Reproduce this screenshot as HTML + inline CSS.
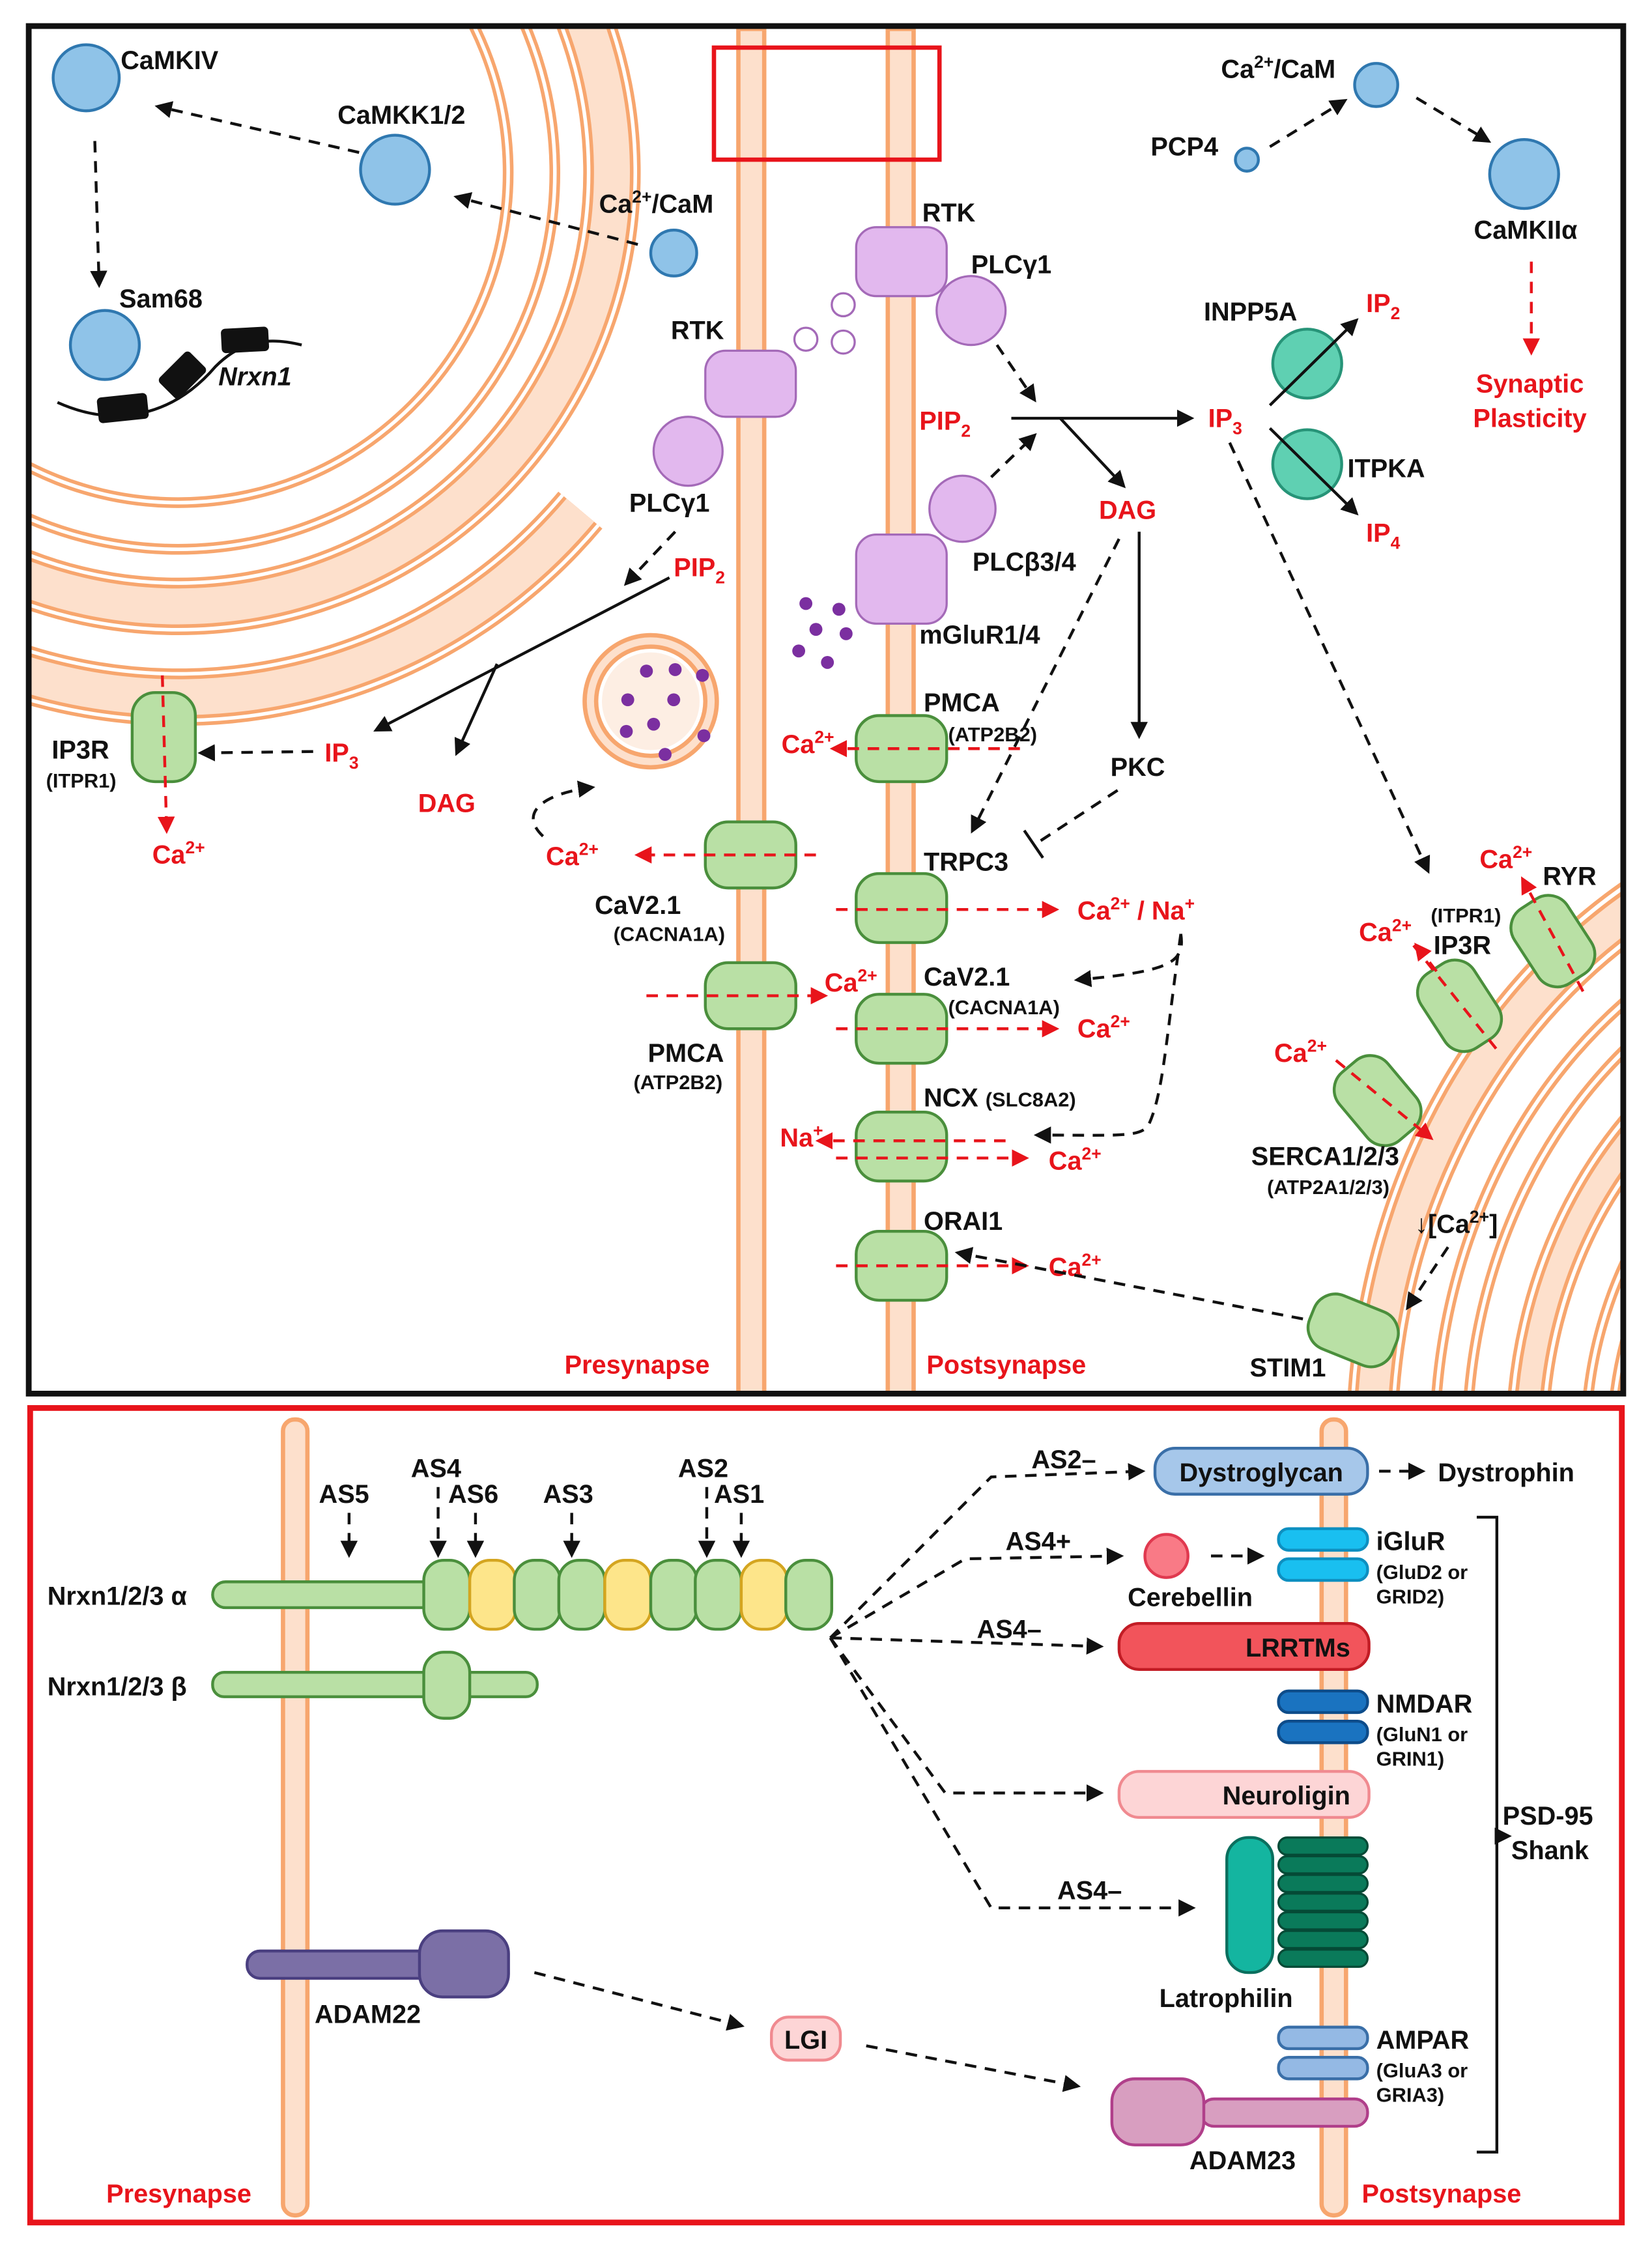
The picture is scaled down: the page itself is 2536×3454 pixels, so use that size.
<!DOCTYPE html>
<html><head><meta charset="utf-8"><style>
html,body{margin:0;padding:0;background:#fff}
svg{display:block}
text{font-family:"Liberation Sans",Arial,sans-serif;font-weight:bold}
.k{fill:#111;font-size:18px}
.r{fill:#e8141b;font-size:18px}
.s{fill:#111;font-size:14px}
.g{fill:#b9e0a5;stroke:#4a8f3c;stroke-width:2}
.p{fill:#e2b8ee;stroke:#a46ab8;stroke-width:1.5}
.b{fill:#8fc3e8;stroke:#2f78b0;stroke-width:2}
.t{fill:#5fd0b2;stroke:#279478;stroke-width:2}
.dk{stroke:#111;stroke-width:2;stroke-dasharray:8,6;fill:none}
.dr{stroke:#e8141b;stroke-width:2;stroke-dasharray:8,6;fill:none}
.sk{stroke:#111;stroke-width:2;fill:none}
</style></head><body>
<svg width="2536" height="3454" viewBox="0 0 1150 1566" xmlns="http://www.w3.org/2000/svg">
<defs>
<marker id="ak" viewBox="0 0 10 10" refX="8" refY="5" markerWidth="6" markerHeight="6" orient="auto-start-reverse"><path d="M0,0L10,5L0,10z" fill="#111"/></marker>
<marker id="ar" viewBox="0 0 10 10" refX="8" refY="5" markerWidth="6" markerHeight="6" orient="auto-start-reverse"><path d="M0,0L10,5L0,10z" fill="#e8141b"/></marker>
<clipPath id="top"><rect x="22" y="20" width="1106" height="948"/></clipPath>
</defs>

<!-- TOP PANEL -->
<g clip-path="url(#top)" fill="none">
 <!-- nucleus band1 (white interior) -->
 <circle cx="124" cy="120" r="246" stroke="#f7a66e" stroke-width="40"/>
 <circle cx="124" cy="120" r="246" stroke="#fff" stroke-width="35"/>
 <circle cx="124" cy="120" r="246" stroke="#f7a66e" stroke-width="30"/>
 <circle cx="124" cy="120" r="246" stroke="#fff" stroke-width="25"/>
 <!-- band2 -->
 <circle cx="124" cy="120" r="302" stroke="#f7a66e" stroke-width="40"/>
 <circle cx="124" cy="120" r="302" stroke="#fff" stroke-width="35"/>
 <circle cx="124" cy="120" r="302" stroke="#f7a66e" stroke-width="30"/>
 <circle cx="124" cy="120" r="302" stroke="#fde0cc" stroke-width="25"/>
 <!-- band3 partial -->
 <g stroke-linecap="butt">
 <path d="M404,355 A365,365 0 0 1 -235,183" stroke="#f7a66e" stroke-width="40"/>
 <path d="M404,355 A365,365 0 0 1 -235,183" stroke="#fff" stroke-width="35"/>
 <path d="M404,355 A365,365 0 0 1 -235,183" stroke="#f7a66e" stroke-width="30"/>
 <path d="M404,355 A365,365 0 0 1 -235,183" stroke="#fde0cc" stroke-width="25"/>
 </g>
 <!-- right ER -->
 <g transform="translate(1335,1005) scale(1,1.15)">
  <circle r="380" stroke="#f7a66e" stroke-width="36"/>
  <circle r="380" stroke="#fff" stroke-width="31"/>
  <circle r="380" stroke="#f7a66e" stroke-width="26"/>
  <circle r="380" stroke="#fde0cc" stroke-width="21"/>
  <circle r="325" stroke="#f7a66e" stroke-width="30"/>
  <circle r="325" stroke="#fff" stroke-width="25"/>
  <circle r="325" stroke="#f7a66e" stroke-width="20"/>
  <circle r="325" stroke="#fff" stroke-width="15"/>
  <circle r="272" stroke="#f7a66e" stroke-width="30"/>
  <circle r="272" stroke="#fff" stroke-width="25"/>
  <circle r="272" stroke="#f7a66e" stroke-width="20"/>
  <circle r="272" stroke="#fde0cc" stroke-width="15"/>
  <circle r="222" stroke="#f7a66e" stroke-width="26"/>
  <circle r="222" stroke="#fff" stroke-width="21"/>
  <circle r="222" stroke="#f7a66e" stroke-width="16"/>
  <circle r="222" stroke="#fff" stroke-width="11"/>
 </g>
</g>
<!-- membranes top -->
<rect x="514" y="20" width="18" height="950" fill="#fde0cc" stroke="#f7a66e" stroke-width="3"/>
<rect x="618" y="20" width="18" height="950" fill="#fde0cc" stroke="#f7a66e" stroke-width="3"/>
<rect x="20" y="18" width="1110" height="952" fill="none" stroke="#111" stroke-width="4"/>
<rect x="497" y="33" width="157" height="78" fill="none" stroke="#e8141b" stroke-width="3"/>

<!-- blue circles -->
<circle class="b" cx="60" cy="54" r="23"/><text class="k" x="84" y="48">CaMKIV</text>
<circle class="b" cx="275" cy="118" r="24"/><text class="k" x="235" y="86">CaMKK1/2</text>
<circle class="b" cx="469" cy="176" r="16"/><text class="k" x="417" y="148">Ca<tspan dy="-7" font-size="12">2+</tspan><tspan dy="7">/CaM</tspan></text>
<circle class="b" cx="73" cy="240" r="24"/><text class="k" x="83" y="214">Sam68</text>
<line class="dk" x1="444" y1="170" x2="318" y2="137" marker-end="url(#ak)"/>
<line class="dk" x1="250" y1="106" x2="110" y2="74" marker-end="url(#ak)"/>
<line class="dk" x1="66" y1="98" x2="69" y2="198" marker-end="url(#ak)"/>
<!-- Nrxn1 dna -->
<path d="M40,280 C80,298 120,290 150,255 C170,235 190,235 210,240" class="sk" stroke-width="3"/>
<rect x="68" y="275" width="35" height="18" rx="3" fill="#111" transform="rotate(-6 85 284)"/>
<rect x="112" y="251" width="30" height="20" rx="3" fill="#111" transform="rotate(-45 127 261)"/>
<rect x="154" y="228" width="33" height="17" rx="3" fill="#111" transform="rotate(-3 170 236)"/>
<text class="k" x="152" y="268" font-style="italic">Nrxn1</text>

<!-- right top -->
<circle class="b" cx="958" cy="59" r="15"/><text class="k" x="850" y="54">Ca<tspan dy="-7" font-size="12">2+</tspan><tspan dy="7">/CaM</tspan></text>
<circle class="b" cx="868" cy="111" r="8"/><text class="k" x="801" y="108">PCP4</text>
<line class="dk" x1="884" y1="102" x2="936" y2="70" marker-end="url(#ak)"/>
<line class="dk" x1="986" y1="68" x2="1036" y2="98" marker-end="url(#ak)"/>
<circle class="b" cx="1061" cy="121" r="24"/><text class="k" x="1026" y="166">CaMKIIα</text>
<line class="dr" x1="1066" y1="182" x2="1066" y2="245" marker-end="url(#ar)"/>
<text class="r" x="1065" y="273" text-anchor="middle">Synaptic</text>
<text class="r" x="1065" y="297" text-anchor="middle">Plasticity</text>

<!-- purple -->
<rect class="p" x="596" y="158" width="63" height="48" rx="14"/><text class="k" x="642" y="154">RTK</text>
<circle class="p" cx="676" cy="216" r="24"/><text class="k" x="676" y="190">PLCγ1</text>
<circle cx="587" cy="212" r="8" fill="#fff" stroke="#a46ab8" stroke-width="1.5"/>
<circle cx="561" cy="236" r="8" fill="#fff" stroke="#a46ab8" stroke-width="1.5"/>
<circle cx="587" cy="238" r="8" fill="#fff" stroke="#a46ab8" stroke-width="1.5"/>
<rect class="p" x="491" y="244" width="63" height="46" rx="14"/><text class="k" x="467" y="236">RTK</text>
<circle class="p" cx="479" cy="314" r="24"/><text class="k" x="438" y="356">PLCγ1</text>
<circle class="p" cx="670" cy="354" r="23"/><text class="k" x="677" y="397">PLCβ3/4</text>
<rect class="p" x="596" y="372" width="63" height="62" rx="14"/><text class="k" x="640" y="448">mGluR1/4</text>
<g fill="#7b2fa0">
<circle cx="561" cy="420" r="4.5"/><circle cx="584" cy="424" r="4.5"/><circle cx="568" cy="438" r="4.5"/><circle cx="589" cy="441" r="4.5"/><circle cx="556" cy="453" r="4.5"/><circle cx="576" cy="461" r="4.5"/>
</g>
<!-- vesicle -->
<circle cx="453" cy="488" r="46" fill="#fde0cc" stroke="#f7a66e" stroke-width="3"/>
<circle cx="453" cy="488" r="38" fill="#fff" stroke="#f7a66e" stroke-width="3"/>
<circle cx="453" cy="488" r="34" fill="#fdeee3"/>
<g fill="#7b2fa0"><circle cx="450" cy="467" r="4.5"/><circle cx="470" cy="466" r="4.5"/><circle cx="489" cy="470" r="4.5"/><circle cx="437" cy="487" r="4.5"/><circle cx="469" cy="487" r="4.5"/><circle cx="436" cy="509" r="4.5"/><circle cx="455" cy="504" r="4.5"/><circle cx="490" cy="512" r="4.5"/><circle cx="463" cy="525" r="4.5"/></g>

<!-- PIP2/IP3/DAG pathways post -->
<text class="r" x="640" y="299">PIP<tspan dy="5" font-size="12">2</tspan></text>
<line class="dk" x1="694" y1="240" x2="720" y2="278" marker-end="url(#ak)"/>
<line class="dk" x1="690" y1="332" x2="720" y2="303" marker-end="url(#ak)"/>
<line class="sk" x1="704" y1="291" x2="829" y2="291" marker-end="url(#ak)"/>
<line class="sk" x1="738" y1="291" x2="782" y2="338" marker-end="url(#ak)"/>
<text class="r" x="841" y="297">IP<tspan dy="5" font-size="12">3</tspan></text>
<text class="r" x="765" y="361">DAG</text>
<circle class="t" cx="910" cy="253" r="24"/><text class="k" x="838" y="223">INPP5A</text>
<circle class="t" cx="910" cy="323" r="24"/><text class="k" x="938" y="332">ITPKA</text>
<line class="sk" x1="884" y1="282" x2="944" y2="223" marker-end="url(#ak)"/>
<line class="sk" x1="884" y1="298" x2="944" y2="357" marker-end="url(#ak)"/>
<text class="r" x="951" y="217">IP<tspan dy="5" font-size="12">2</tspan></text>
<text class="r" x="951" y="377">IP<tspan dy="5" font-size="12">4</tspan></text>
<line class="sk" x1="793" y1="370" x2="793" y2="512" marker-end="url(#ak)"/>
<text class="k" x="773" y="540">PKC</text>
<line class="dk" x1="779" y1="375" x2="677" y2="578" marker-end="url(#ak)"/>
<path class="dk" d="M778,550 L720,588"/><line x1="713" y1="578" x2="726" y2="597" stroke="#111" stroke-width="2"/>
<line class="dk" x1="856" y1="308" x2="994" y2="606" marker-end="url(#ak)"/>

<!-- presyn pathways -->
<line class="dk" x1="470" y1="370" x2="436" y2="406" marker-end="url(#ak)"/>
<text class="r" x="469" y="401">PIP<tspan dy="5" font-size="12">2</tspan></text>
<line class="sk" x1="466" y1="402" x2="262" y2="508" marker-end="url(#ak)"/>
<line class="sk" x1="346" y1="462" x2="318" y2="524" marker-end="url(#ak)"/>
<text class="r" x="226" y="530">IP<tspan dy="5" font-size="12">3</tspan></text>
<text class="r" x="291" y="565">DAG</text>
<line class="dk" x1="218" y1="523" x2="140" y2="524" marker-end="url(#ak)"/>
<rect class="g" x="92" y="482" width="44" height="62" rx="16"/>
<line class="dr" x1="113" y1="470" x2="116" y2="578" marker-end="url(#ar)"/>
<text class="k" x="36" y="528">IP3R</text><text class="s" x="32" y="548">(ITPR1)</text>
<text class="r" x="106" y="601">Ca<tspan dy="-7" font-size="12">2+</tspan></text>

<!-- presyn channels -->
<rect class="g" x="491" y="572" width="63" height="46" rx="16"/>
<line class="dr" x1="568" y1="595" x2="444" y2="595" marker-end="url(#ar)"/>
<text class="r" x="380" y="602">Ca<tspan dy="-7" font-size="12">2+</tspan></text>
<path class="dk" d="M378,582 C360,565 380,552 412,548" marker-end="url(#ak)"/>
<text class="k" x="414" y="636">CaV2.1</text><text class="s" x="427" y="655">(CACNA1A)</text>
<rect class="g" x="491" y="670" width="63" height="46" rx="16"/>
<line class="dr" x1="450" y1="693" x2="574" y2="693" marker-end="url(#ar)"/>
<text class="r" x="574" y="690">Ca<tspan dy="-7" font-size="12">2+</tspan></text>
<text class="k" x="451" y="739">PMCA</text><text class="s" x="441" y="758">(ATP2B2)</text>
<text class="r" x="393" y="956">Presynapse</text>

<!-- postsyn channels -->
<rect class="g" x="596" y="498" width="63" height="46" rx="16"/>
<line class="dr" x1="710" y1="521" x2="580" y2="521" marker-end="url(#ar)"/>
<text class="r" x="544" y="524">Ca<tspan dy="-7" font-size="12">2+</tspan></text>
<text class="k" x="643" y="495">PMCA</text><text class="s" x="660" y="516">(ATP2B2)</text>
<rect class="g" x="596" y="608" width="63" height="48" rx="16"/>
<line class="dr" x1="582" y1="633" x2="735" y2="633" marker-end="url(#ar)"/>
<text class="k" x="643" y="606">TRPC3</text>
<text class="r" x="750" y="640">Ca<tspan dy="-7" font-size="12">2+</tspan><tspan dy="7"> / Na</tspan><tspan dy="-7" font-size="12">+</tspan></text>
<rect class="g" x="596" y="692" width="63" height="48" rx="16"/>
<line class="dr" x1="582" y1="716" x2="735" y2="716" marker-end="url(#ar)"/>
<text class="r" x="750" y="722">Ca<tspan dy="-7" font-size="12">2+</tspan></text>
<text class="k" x="643" y="686">CaV2.1</text><text class="s" x="660" y="706">(CACNA1A)</text>
<path class="dk" d="M822,650 C825,670 815,676 750,682" marker-end="url(#ak)"/>
<path class="dk" d="M822,650 C812,720 810,760 800,782 C795,792 780,790 722,790" marker-end="url(#ak)"/>
<rect class="g" x="596" y="774" width="63" height="48" rx="16"/>
<line class="dr" x1="700" y1="794" x2="570" y2="794" marker-end="url(#ar)"/>
<line class="dr" x1="582" y1="806" x2="714" y2="806" marker-end="url(#ar)"/>
<text class="r" x="543" y="798">Na<tspan dy="-7" font-size="12">+</tspan></text>
<text class="r" x="730" y="814">Ca<tspan dy="-7" font-size="12">2+</tspan></text>
<text class="k" x="643" y="770">NCX <tspan font-size="14">(SLC8A2)</tspan></text>
<rect class="g" x="596" y="857" width="63" height="48" rx="16"/>
<line class="dr" x1="582" y1="881" x2="714" y2="881" marker-end="url(#ar)"/>
<text class="r" x="730" y="888">Ca<tspan dy="-7" font-size="12">2+</tspan></text>
<text class="k" x="643" y="856">ORAI1</text>
<text class="r" x="645" y="956">Postsynapse</text>

<!-- right ER channels -->
<rect class="g" x="-22" y="-31" width="44" height="62" rx="16" transform="translate(1016,700) rotate(-33)"/>
<line class="dr" x1="984" y1="658" x2="1044" y2="733"/>
<text class="r" x="946" y="655">Ca<tspan dy="-7" font-size="12">2+</tspan></text>
<line class="dr" x1="1000" y1="676" x2="986" y2="658" marker-end="url(#ar)"/>
<text class="s" x="996" y="642">(ITPR1)</text><text class="k" x="998" y="664">IP3R</text>
<rect class="g" x="-22" y="-31" width="44" height="62" rx="16" transform="translate(1081,655) rotate(-33)"/>
<line class="dr" x1="1102" y1="690" x2="1060" y2="612" marker-end="url(#ar)"/>
<text class="r" x="1030" y="604">Ca<tspan dy="-7" font-size="12">2+</tspan></text>
<text class="k" x="1074" y="616">RYR</text>
<rect class="g" x="-22" y="-31" width="44" height="62" rx="16" transform="translate(959,766) rotate(-40)"/>
<line class="dr" x1="930" y1="738" x2="996" y2="792" marker-end="url(#ar)"/>
<text class="r" x="887" y="739">Ca<tspan dy="-7" font-size="12">2+</tspan></text>
<text class="k" x="871" y="811">SERCA1/2/3</text><text class="s" x="882" y="831">(ATP2A1/2/3)</text>
<text class="k" x="985" y="858">↓[Ca<tspan dy="-7" font-size="12">2+</tspan><tspan dy="7">]</tspan></text>
<line class="dk" x1="1008" y1="868" x2="980" y2="910" marker-end="url(#ak)"/>
<rect class="g" x="-31" y="-20" width="62" height="40" rx="16" transform="translate(942,926) rotate(22)"/>
<text class="k" x="870" y="958">STIM1</text>
<line class="dk" x1="907" y1="918" x2="667" y2="872" marker-end="url(#ak)"/>

<!-- BOTTOM PANEL -->
<rect x="197" y="988" width="17" height="554" rx="8" fill="#fde0cc" stroke="#f7a66e" stroke-width="3"/>
<rect x="920" y="988" width="17" height="554" rx="8" fill="#fde0cc" stroke="#f7a66e" stroke-width="3"/>
<rect x="21" y="980" width="1108" height="567" fill="none" stroke="#e8141b" stroke-width="4"/>
<text class="r" x="74" y="1533">Presynapse</text>
<text class="r" x="948" y="1533">Postsynapse</text>

<text class="k" x="33" y="1117">Nrxn1/2/3 α</text>
<text class="k" x="33" y="1180">Nrxn1/2/3 β</text>
<rect x="148" y="1101" width="160" height="18" rx="9" fill="#b9e0a5" stroke="#4a8f3c" stroke-width="2"/>
<g stroke-width="2">
<rect x="295" y="1086" width="32" height="48" rx="14" fill="#b9e0a5" stroke="#4a8f3c"/>
<rect x="327" y="1086" width="32" height="48" rx="14" fill="#fde58a" stroke="#d4a520"/>
<rect x="358" y="1086" width="32" height="48" rx="14" fill="#b9e0a5" stroke="#4a8f3c"/>
<rect x="389" y="1086" width="32" height="48" rx="14" fill="#b9e0a5" stroke="#4a8f3c"/>
<rect x="421" y="1086" width="32" height="48" rx="14" fill="#fde58a" stroke="#d4a520"/>
<rect x="453" y="1086" width="32" height="48" rx="14" fill="#b9e0a5" stroke="#4a8f3c"/>
<rect x="484" y="1086" width="32" height="48" rx="14" fill="#b9e0a5" stroke="#4a8f3c"/>
<rect x="516" y="1086" width="32" height="48" rx="14" fill="#fde58a" stroke="#d4a520"/>
<rect x="547" y="1086" width="32" height="48" rx="14" fill="#b9e0a5" stroke="#4a8f3c"/>
</g>
<rect x="148" y="1164" width="226" height="17" rx="8" fill="#b9e0a5" stroke="#4a8f3c" stroke-width="2"/>
<rect x="295" y="1150" width="32" height="46" rx="14" fill="#b9e0a5" stroke="#4a8f3c" stroke-width="2"/>
<text class="k" x="222" y="1046">AS5</text><line class="dk" x1="243" y1="1053" x2="243" y2="1082" marker-end="url(#ak)"/>
<text class="k" x="286" y="1028">AS4</text><line class="dk" x1="305" y1="1035" x2="305" y2="1082" marker-end="url(#ak)"/>
<text class="k" x="312" y="1046">AS6</text><line class="dk" x1="331" y1="1053" x2="331" y2="1082" marker-end="url(#ak)"/>
<text class="k" x="378" y="1046">AS3</text><line class="dk" x1="398" y1="1053" x2="398" y2="1082" marker-end="url(#ak)"/>
<text class="k" x="472" y="1028">AS2</text><line class="dk" x1="492" y1="1035" x2="492" y2="1082" marker-end="url(#ak)"/>
<text class="k" x="497" y="1046">AS1</text><line class="dk" x1="516" y1="1053" x2="516" y2="1082" marker-end="url(#ak)"/>

<!-- fan arrows -->
<path class="dk" d="M578,1140 L690,1028 L795,1024" marker-end="url(#ak)"/>
<path class="dk" d="M578,1140 L672,1085 L780,1083" marker-end="url(#ak)"/>
<path class="dk" d="M578,1140 L766,1146" marker-end="url(#ak)"/>
<path class="dk" d="M578,1140 L658,1248 L766,1248" marker-end="url(#ak)"/>
<path class="dk" d="M578,1140 L690,1328 L830,1328" marker-end="url(#ak)"/>
<text class="k" x="718" y="1022">AS2–</text>
<text class="k" x="700" y="1079">AS4+</text>
<text class="k" x="680" y="1140">AS4–</text>
<text class="k" x="736" y="1322">AS4–</text>

<rect x="804" y="1008" width="148" height="32" rx="14" fill="#a6c7ea" stroke="#3a6fa8" stroke-width="2"/>
<text class="k" x="878" y="1031" text-anchor="middle">Dystroglycan</text>
<line class="dk" x1="960" y1="1024" x2="990" y2="1024" marker-end="url(#ak)"/>
<text class="k" x="1001" y="1031">Dystrophin</text>

<circle cx="812" cy="1083" r="15" fill="#f97a86" stroke="#e0394f" stroke-width="2"/>
<text class="k" x="785" y="1118">Cerebellin</text>
<line class="dk" x1="843" y1="1083" x2="878" y2="1083" marker-end="url(#ak)"/>
<rect x="890" y="1064" width="62" height="15" rx="7" fill="#19bff0" stroke="#0d8fc0" stroke-width="2"/>
<rect x="890" y="1085" width="62" height="15" rx="7" fill="#19bff0" stroke="#0d8fc0" stroke-width="2"/>
<text class="k" x="958" y="1079">iGluR</text>
<text class="s" x="958" y="1099">(GluD2 or</text><text class="s" x="958" y="1116">GRID2)</text>

<rect x="779" y="1130" width="174" height="32" rx="14" fill="#f2545b" stroke="#c21c25" stroke-width="2"/>
<text class="k" x="940" y="1153" text-anchor="end" font-size="19">LRRTMs</text>

<rect x="890" y="1177" width="62" height="15" rx="7" fill="#1a73c0" stroke="#0d4c8a" stroke-width="2"/>
<rect x="890" y="1198" width="62" height="15" rx="7" fill="#1a73c0" stroke="#0d4c8a" stroke-width="2"/>
<text class="k" x="958" y="1192">NMDAR</text>
<text class="s" x="958" y="1212">(GluN1 or</text><text class="s" x="958" y="1229">GRIN1)</text>

<rect x="779" y="1233" width="174" height="32" rx="14" fill="#fdd5d6" stroke="#f08a90" stroke-width="2"/>
<text class="k" x="940" y="1256" text-anchor="end" font-size="19">Neuroligin</text>

<rect x="854" y="1279" width="32" height="94" rx="15" fill="#14b5a0" stroke="#0a6f5e" stroke-width="2"/>
<g fill="#0a7a5a" stroke="#054a36" stroke-width="1.5">
<rect x="890" y="1279" width="62" height="12" rx="6"/><rect x="890" y="1292" width="62" height="12" rx="6"/><rect x="890" y="1305" width="62" height="12" rx="6"/><rect x="890" y="1318" width="62" height="12" rx="6"/><rect x="890" y="1331" width="62" height="12" rx="6"/><rect x="890" y="1344" width="62" height="12" rx="6"/><rect x="890" y="1357" width="62" height="12" rx="6"/>
</g>
<text class="k" x="807" y="1397">Latrophilin</text>

<rect x="890" y="1411" width="62" height="15" rx="7" fill="#94b9e4" stroke="#3a6fa8" stroke-width="2"/>
<rect x="890" y="1432" width="62" height="15" rx="7" fill="#94b9e4" stroke="#3a6fa8" stroke-width="2"/>
<text class="k" x="958" y="1426">AMPAR</text>
<text class="s" x="958" y="1446">(GluA3 or</text><text class="s" x="958" y="1463">GRIA3)</text>

<path d="M1028,1056 L1042,1056 L1042,1498 L1028,1498" class="sk"/>
<line class="sk" x1="1042" y1="1278" x2="1050" y2="1278" marker-end="url(#ak)"/>
<text class="k" x="1046" y="1270">PSD-95</text>
<text class="k" x="1052" y="1294">Shank</text>

<rect x="172" y="1358" width="130" height="19" rx="9" fill="#7b6fa6" stroke="#4a3f80" stroke-width="2"/>
<rect x="292" y="1344" width="62" height="46" rx="16" fill="#7b6fa6" stroke="#4a3f80" stroke-width="2"/>
<text class="k" x="219" y="1408">ADAM22</text>
<line class="dk" x1="372" y1="1373" x2="516" y2="1410" marker-end="url(#ak)"/>
<rect x="537" y="1404" width="48" height="30" rx="12" fill="#fdd5d6" stroke="#f08a90" stroke-width="2"/>
<text class="k" x="561" y="1426" text-anchor="middle">LGI</text>
<line class="dk" x1="603" y1="1424" x2="750" y2="1452" marker-end="url(#ak)"/>
<rect x="836" y="1461" width="116" height="19" rx="9" fill="#d89ec0" stroke="#b03f8a" stroke-width="2"/>
<rect x="774" y="1447" width="64" height="46" rx="16" fill="#d89ec0" stroke="#b03f8a" stroke-width="2"/>
<text class="k" x="828" y="1510">ADAM23</text>
</svg>
</body></html>
